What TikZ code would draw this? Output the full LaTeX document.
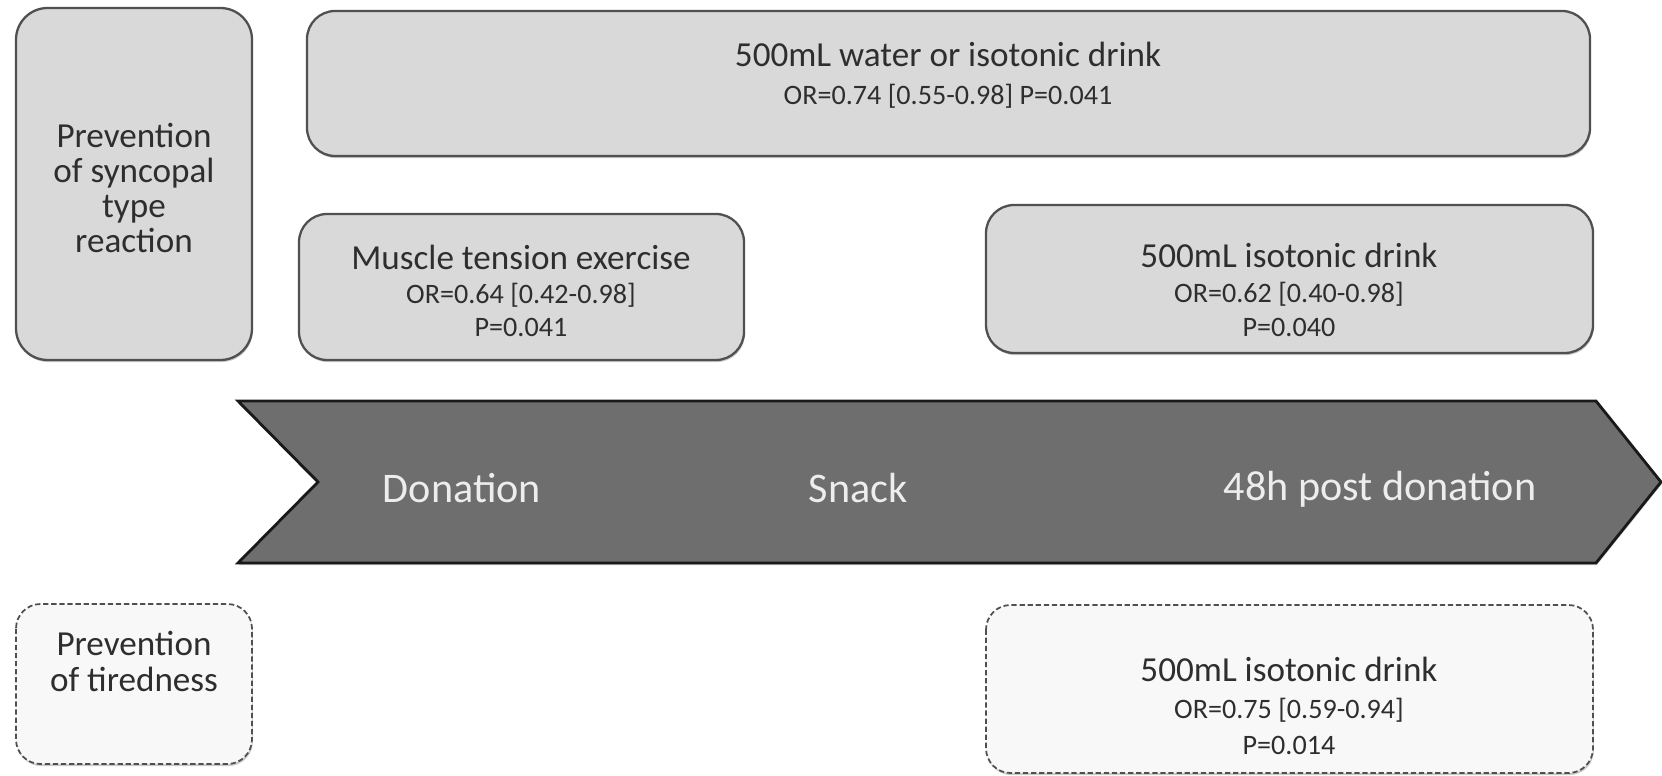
\documentclass[tikz,border=0pt]{standalone}
\usepackage{fontspec}
\setmainfont{Carlito}
\usetikzlibrary{shadows}

\definecolor{boxgray}{HTML}{D9D9D9}
\definecolor{linegray}{HTML}{505050}
\definecolor{arrowgray}{HTML}{6E6E6E}
\definecolor{textgray}{HTML}{2E2E2E}
\definecolor{palegray}{HTML}{F8F8F8}
\definecolor{stagewhite}{HTML}{EDEDED}

\newcommand{\boxhead}{\fontsize{20}{20}\selectfont}

\tikzset{
  softshadow/.style={drop shadow={shadow xshift=0.5pt, shadow yshift=-1.2pt, fill=black!60, opacity=0.35}},
  solidbox/.style={draw=linegray, line width=1.3pt, fill=boxgray, rounded corners=16pt, softshadow},
  dashbox/.style={draw=linegray, line width=1pt, dash pattern=on 3pt off 1.6pt, fill=palegray, rounded corners=14pt, softshadow},
  timeline/.style={draw=black!90, line width=1.6pt, fill=arrowgray, softshadow},
  boxtext/.style={text=textgray, align=center, inner sep=0pt},
  stagetext/.style={text=stagewhite, inner sep=0pt, font=\fontsize{24}{24}\selectfont}
}

\begin{document}
\begin{tikzpicture}[x=0.02cm, y=-0.02cm]
\useasboundingbox (0,0) rectangle (1662,776);

% timeline
\draw[timeline] (238,401) -- (1596,401) -- (1661,482) -- (1596,563) -- (238,563) -- (318,482) -- cycle;

\node[stagetext] (donation) at (462,488) {Donation};
\node[stagetext] (snack) at (858,488) {Snack};
\node[stagetext] (postdon) at (1380,489) {48h post donation};

% syncopal type reaction
\draw[solidbox, rounded corners=18pt] (16,8) rectangle (252,360);
\node[boxtext, font=\fontsize{20}{20}\selectfont] (syncope) at (134,188) {Prevention\\of syncopal\\type\\reaction};

\draw[solidbox] (307,11) rectangle (1590,156);
\node[boxtext, font=\fontsize{16}{21.5}\selectfont] (water) at (948,75)
  {{\boxhead 500mL water or isotonic drink}\\OR=0.74 [0.55-0.98] P=0.041};

\draw[solidbox] (299,214) rectangle (744,360);
\node[boxtext, font=\fontsize{16}{19}\selectfont] (muscle) at (521,291)
  {{\boxhead Muscle tension exercise}\\OR=0.64 [0.42-0.98]\\P=0.041};

\draw[solidbox] (986,205) rectangle (1593,353);
\node[boxtext, font=\fontsize{16}{19.5}\selectfont] (isodrink) at (1289,290)
  {{\boxhead 500mL isotonic drink}\\OR=0.62 [0.40-0.98]\\P=0.040};

% tiredness
\draw[dashbox] (16,604) rectangle (252,764);
\node[boxtext, font=\fontsize{20}{20.5}\selectfont] (tired) at (134,661) {Prevention\\of tiredness};

\draw[dashbox] (986,605) rectangle (1593,773);
\node[boxtext, font=\fontsize{16}{21}\selectfont] (isotired) at (1289,706)
  {{\boxhead 500mL isotonic drink}\\OR=0.75 [0.59-0.94]\\P=0.014};

\end{tikzpicture}
\end{document}
